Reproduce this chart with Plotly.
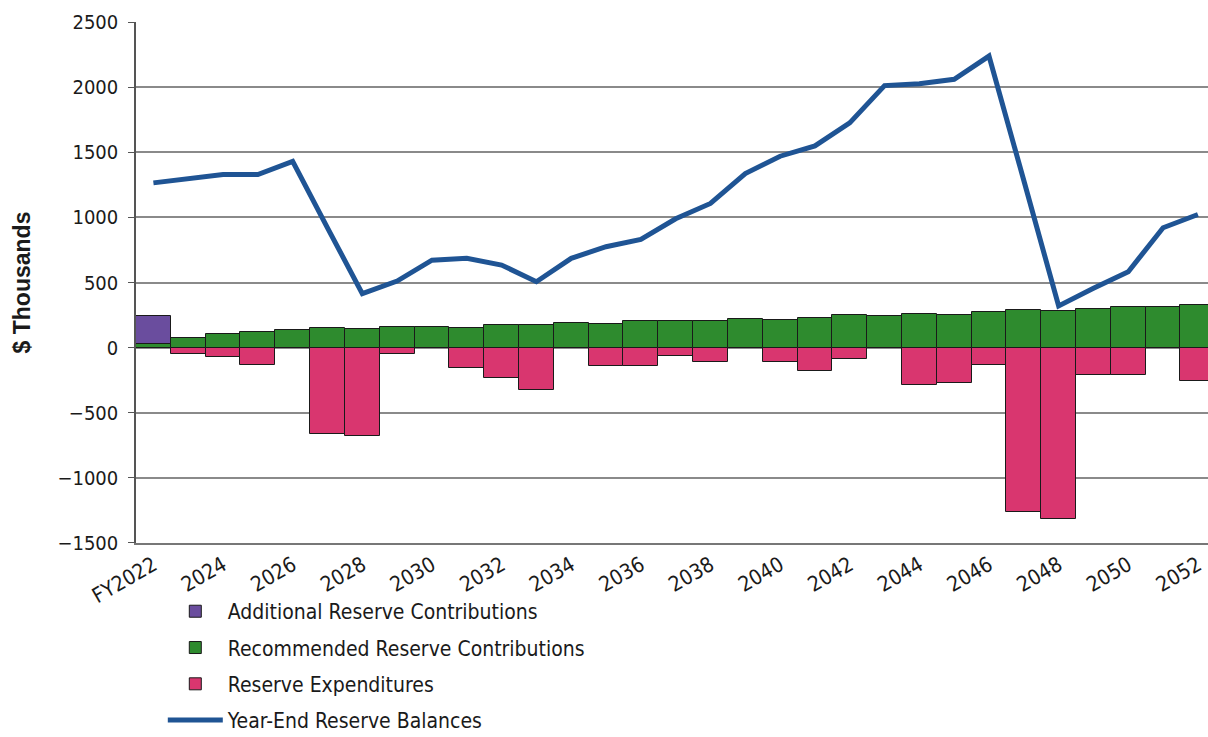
import plotly.graph_objects as go

years = ["FY2022"] + [str(y) for y in range(2023, 2053)]
tick_labels = ["FY2022", "2024", "2026", "2028", "2030", "2032", "2034", "2036",
               "2038", "2040", "2042", "2044", "2046", "2048", "2050", "2052"]

additional = [218] + [None] * 30
recommended = [25, 71, 104, 120, 135, 148, 143, 160, 158, 153, 172, 170, 186, 181, 202, 202,
               202, 217, 212, 227, 248, 240, 258, 252, 273, 289, 284, 299, 314, 309, 330]
expenditures = [None, -50, -75, -134, None, -666, -684, -50, None, -154, -231, -325, None, -141,
                -141, -64, -108, None, -108, -177, -88, None, -287, -269, -134, -1265, -1316,
                -210, -213, None, -256]
balance = [1266, 1294, 1330, 1330, 1432, 920, 415, 511, 672, 686, 634, 506, 686, 775, 831, 990,
           1108, 1338, 1471, 1550, 1727, 2014, 2029, 2062, 2241, 1284, 320, 455, 583, 921, 1023]

FONT = "DejaVu Sans Condensed, Liberation Sans Narrow, Arial Narrow, Liberation Sans, sans-serif"
outline = dict(color="#1a1a1a", width=1)

fig = go.Figure()
fig.add_trace(go.Bar(x=years, y=recommended, name="Recommended Reserve Contributions",
                     marker=dict(color="#2e8b2e", line=outline), legendrank=2,
                     legendgroup="b"))
fig.add_trace(go.Bar(x=years, y=additional, name="Additional Reserve Contributions",
                     marker=dict(color="#6a4d9e", line=outline), legendrank=1,
                     legendgroup="a"))
fig.add_trace(go.Bar(x=years, y=expenditures, name="Reserve Expenditures",
                     marker=dict(color="#d9366f", line=outline), legendrank=3,
                     legendgroup="c"))
fig.add_trace(go.Scatter(x=years, y=balance, name="Year-End Reserve Balances", mode="lines",
                         line=dict(color="#1f5494", width=5), legendrank=4,
                         legendgroup="d"))

fig.update_layout(
    width=1208, height=737,
    margin=dict(l=136, r=0, t=22, b=194, autoexpand=False),
    paper_bgcolor="white", plot_bgcolor="white",
    barmode="relative", bargap=0,
    font=dict(family=FONT, size=20, color="#1a1a1a"),
    legend=dict(x=0.025, y=0.198, yref="container", xanchor="left", yanchor="top",
                traceorder="grouped", tracegroupgap=6, itemwidth=55,
                font=dict(family=FONT, size=21, color="#1a1a1a"),
                bgcolor="rgba(0,0,0,0)"),
    showlegend=True,
)
fig.update_xaxes(type="category", range=[-0.5, 30.29], automargin=False,
                 tickmode="array", tickvals=tick_labels, ticktext=tick_labels,
                 tickangle=-30, showgrid=False, showline=True, linecolor="#777",
                 linewidth=1.5, ticks="", tickfont=dict(family=FONT, size=21))
fig.update_yaxes(range=[-1503, 2503], tickmode="array", automargin=False,
                 tickvals=[-1500, -1000, -500, 0, 500, 1000, 1500, 2000, 2500],
                 showgrid=True, gridcolor="#8a8a8a", gridwidth=1.5,
                 zeroline=True, zerolinecolor="#8a8a8a", zerolinewidth=1.5,
                 showline=True, linecolor="#555", linewidth=1.5,
                 ticks="outside", ticklen=6, tickcolor="#555", ticklabelstandoff=6,
                 tickfont=dict(family=FONT, size=20),
                 title=dict(text="<b>$ Thousands</b>", font=dict(family="Liberation Sans, Arial", size=23),
                            standoff=20))

fig.write_html("out.html")
